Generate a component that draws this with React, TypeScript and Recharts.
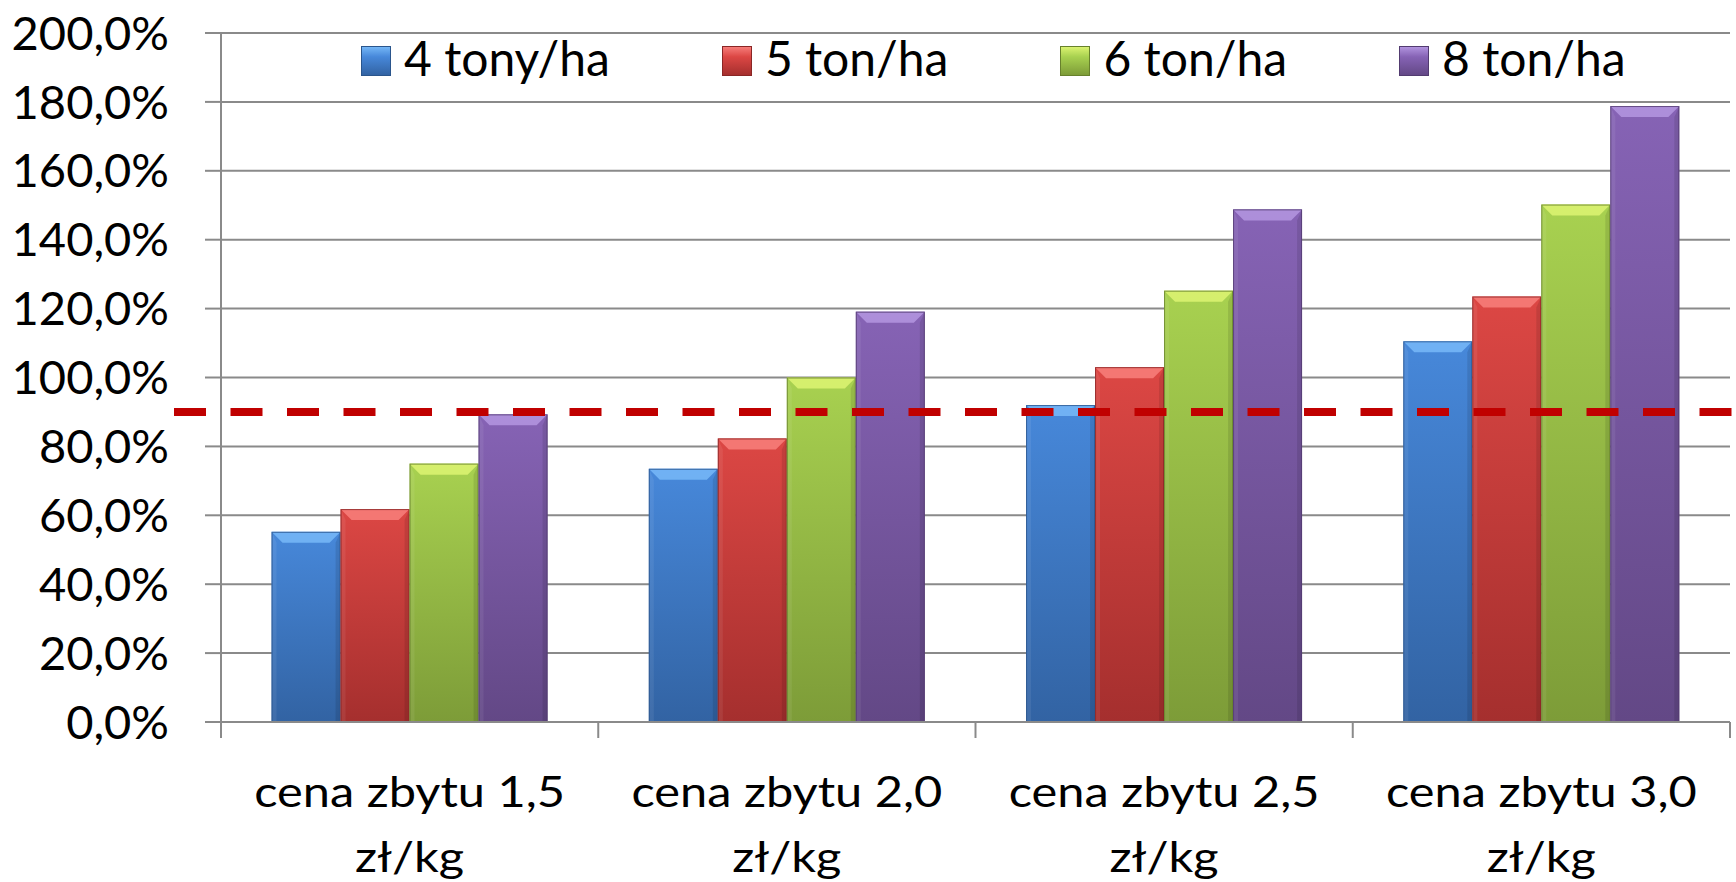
import React from 'react';
import { BarChart, Bar, XAxis, YAxis, CartesianGrid, ReferenceLine } from 'recharts';

const catLine1 = ['cena zbytu 1,5', 'cena zbytu 2,0', 'cena zbytu 2,5', 'cena zbytu 3,0'];
const catLine2 = ['zł/kg', 'zł/kg', 'zł/kg', 'zł/kg'];
const seriesNames = ['4 tony/ha', '5 ton/ha', '6 ton/ha', '8 ton/ha'];
const s4 = [55.2, 73.5, 92.0, 110.5];
const s5 = [61.8, 82.3, 103.0, 123.5];
const s6 = [75.0, 100.0, 125.2, 150.2];
const s8 = [89.3, 119.1, 148.8, 178.8];
const threshold = 90;
const yTicks = [0, 20, 40, 60, 80, 100, 120, 140, 160, 180, 200];

const data = catLine1.map((c, i) => ({
  name: c + ' ' + catLine2[i],
  a: s4[i],
  b: s5[i],
  c: s6[i],
  d: s8[i],
}));

const W = 1736;
const H = 882;
const MARGIN = { top: 33, right: 6, left: 0, bottom: 0 };
const Y_W = 221;
const X_H = 160;
const BAND = (W - MARGIN.left - MARGIN.right - Y_W) / catLine1.length;
const FONT = 'Lato, "Open Sans", sans-serif';
const GRID = '#8a8a8a';

const palette = [
  { top: '#4788DA', bottom: '#3263A3', light: '#74B6F6', dark: '#2A558C' },
  { top: '#DC4744', bottom: '#A52F2E', light: '#F67C79', dark: '#8A2625' },
  { top: '#A8D150', bottom: '#7D9C38', light: '#DAF270', dark: '#67812C' },
  { top: '#8663B5', bottom: '#634886', light: '#B193DE', dark: '#523B70' },
];

const BevelBar = (props: any) => {
  const { x, y, width, height, idx } = props;
  if (!height || height <= 0) return null;
  const p = palette[idx];
  const b = Math.min(11, height / 2);
  const s = 5;
  return (
    <g>
      <rect x={x} y={y} width={width} height={height} fill={`url(#grad${idx})`} />
      <polygon
        points={`${x},${y} ${x + width},${y} ${x + width - b},${y + b} ${x + b},${y + b}`}
        fill={p.light}
        opacity={0.9}
      />
      <polygon
        points={`${x},${y} ${x + s},${y + b} ${x + s},${y + height} ${x},${y + height}`}
        fill="#ffffff"
        opacity={0.07}
      />
      <polygon
        points={`${x + width},${y} ${x + width - s},${y + b} ${x + width - s},${y + height} ${x + width},${y + height}`}
        fill="#000000"
        opacity={0.1}
      />
      <rect x={x + 0.5} y={y + 0.5} width={width - 1} height={height - 1} fill="none" stroke={p.dark} strokeWidth={1} opacity={0.8} />
    </g>
  );
};

const XTick = (props: any) => {
  const { x, y, index } = props;
  const half = BAND / 2;
  const last = index === catLine1.length - 1;
  return (
    <g>
      <line x1={x - half} x2={x - half} y1={y} y2={y + 16} stroke={GRID} strokeWidth={2} />
      {last && <line x1={x + half} x2={x + half} y1={y} y2={y + 16} stroke={GRID} strokeWidth={2} />}
      <text transform={`translate(${x},${y + 85}) scale(1.16,1)`} textAnchor="middle" fontFamily={FONT} fontSize={42} fill="#000">
        {catLine1[index]}
      </text>
      <text transform={`translate(${x},${y + 150}) scale(1.16,1)`} textAnchor="middle" fontFamily={FONT} fontSize={42} fill="#000">
        {catLine2[index]}
      </text>
    </g>
  );
};

const LegendBox = () => (
  <div style={{ position: 'absolute', left: 361, top: 46, display: 'flex', alignItems: 'center', height: 30 }}>
    {seriesNames.map((name, i) => {
      const p = palette[i];
      return (
        <div key={i} style={{ display: 'flex', alignItems: 'center', marginRight: 112 }}>
          <div
            style={{
              width: 30,
              height: 30,
              boxSizing: 'border-box',
              background: `linear-gradient(to bottom, ${p.light} 0%, ${p.top} 35%, ${p.bottom} 100%)`,
              border: `1px solid ${p.dark}`,
            }}
          />
          <span
            style={{
              marginLeft: 13,
              fontFamily: FONT,
              fontSize: 48,
              lineHeight: '30px',
              color: '#000',
              whiteSpace: 'nowrap',
              position: 'relative',
              top: -3,
            }}
          >
            {name}
          </span>
        </div>
      );
    })}
  </div>
);

const RefShape = (props: any) => {
  const { x1, y1, x2 } = props;
  return (
    <line
      x1={x1 - 47}
      y1={y1}
      x2={x2 + 6}
      y2={y1}
      stroke="#C00000"
      strokeWidth={8}
      strokeDasharray="32 24.5"
    />
  );
};

export default function App() {
  return (
    <div style={{ position: 'absolute', left: 0, top: 0, width: W, height: H, background: '#fff' }}>
      <BarChart width={W} height={H} data={data} margin={MARGIN} barCategoryGap="13.4%" barGap={0}>
        <defs>
          {palette.map((p, i) => (
            <linearGradient key={i} id={`grad${i}`} x1="0" y1="0" x2="0" y2="1">
              <stop offset="0%" stopColor={p.top} />
              <stop offset="100%" stopColor={p.bottom} />
            </linearGradient>
          ))}
        </defs>
        <CartesianGrid vertical={false} stroke={GRID} strokeWidth={2} />
        <XAxis
          dataKey="name"
          height={X_H}
          axisLine={{ stroke: GRID, strokeWidth: 2 }}
          tickLine={false}
          tickSize={0}
          tickMargin={0}
          tick={<XTick />}
          interval={0}
        />
        <YAxis
          width={Y_W}
          domain={[0, 200]}
          ticks={yTicks}
          interval={0}
          tickFormatter={(v: number) => v.toFixed(1).replace('.', ',') + '%'}
          axisLine={{ stroke: GRID, strokeWidth: 2 }}
          tickLine={{ stroke: GRID, strokeWidth: 2 }}
          tickSize={16}
          tickMargin={36}
          tick={{ fontFamily: FONT, fontSize: 47, fill: '#000' }}
        />
        <Bar dataKey="a" name={seriesNames[0]} fill={palette[0].top} isAnimationActive={false} shape={(p: any) => <BevelBar {...p} idx={0} />} />
        <Bar dataKey="b" name={seriesNames[1]} fill={palette[1].top} isAnimationActive={false} shape={(p: any) => <BevelBar {...p} idx={1} />} />
        <Bar dataKey="c" name={seriesNames[2]} fill={palette[2].top} isAnimationActive={false} shape={(p: any) => <BevelBar {...p} idx={2} />} />
        <Bar dataKey="d" name={seriesNames[3]} fill={palette[3].top} isAnimationActive={false} shape={(p: any) => <BevelBar {...p} idx={3} />} />
        <ReferenceLine y={threshold} ifOverflow="visible" shape={<RefShape />} />
      </BarChart>
      <LegendBox />
    </div>
  );
}
